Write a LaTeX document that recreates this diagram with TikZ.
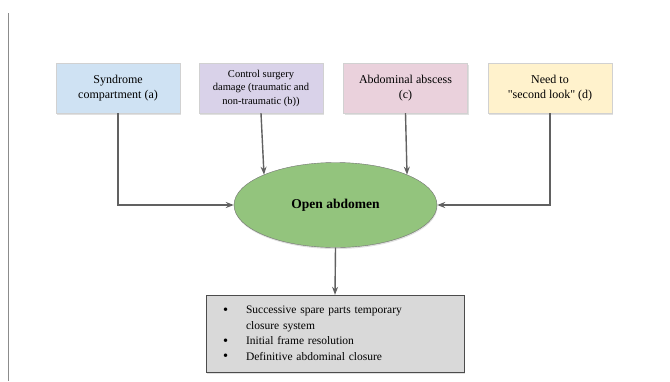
\documentclass[tikz,border=0pt]{standalone}
\usepackage{fontspec}
\setmainfont{Liberation Serif}
\usetikzlibrary{shapes.geometric,arrows.meta,shadows}
\definecolor{syndblue}{HTML}{CFE2F3}
\definecolor{surgpurple}{HTML}{D9D2E9}
\definecolor{abscpink}{HTML}{EAD1DC}
\definecolor{lookyellow}{HTML}{FFF2CC}
\definecolor{opengreen}{HTML}{93C47D}
\definecolor{listgray}{HTML}{D9D9D9}
\newcommand{\stepbullet}{\makebox[23pt][l]{\raisebox{-0.5pt}{\Large\textbullet}}}
\begin{document}
\begin{tikzpicture}[x=1pt,y=-1pt,
    cause/.style={draw=black!18, minimum width=124pt, minimum height=50pt, inner sep=1pt,
      align=center, font=\fontsize{12}{15}\selectfont,
      drop shadow={shadow xshift=1pt, shadow yshift=-1.5pt, fill=black!30, opacity=0.4}},
    flow/.style={draw=black!62, line width=1.4pt, -{Stealth[length=8pt,width=6pt]}}]
  \useasboundingbox (0,0) rectangle (670,381);
  % page margin line on the left
  \draw[black!45, line width=0.8pt] (8,13) -- (8,381);

  % the four causes along the top
  \node[cause, fill=syndblue] (synd) at (118,88) {Syndrome\\compartment (a)};
  \node[cause, fill=surgpurple, font=\fontsize{10.5}{13.5}\selectfont] (surg) at (261,88)
    {Control surgery\\damage (traumatic and\\non-traumatic (b))};
  \node[cause, fill=abscpink] (absc) at (405.5,88) {Abdominal abscess\\(c)};
  \node[cause, fill=lookyellow] (look) at (550,88)
    {Need to\\\textquotedbl second look\textquotedbl{} (d)};

  % open abdomen in the middle
  \node[ellipse, draw=black!55, fill=opengreen, minimum width=203pt, minimum height=85pt,
    inner sep=0pt, font=\fontsize{13.5}{16}\selectfont\bfseries,
    drop shadow={shadow xshift=0.5pt, shadow yshift=-1.5pt, fill=black!30, opacity=0.4}]
    (open) at (335.5,205) {Open abdomen};

  % treatment steps at the bottom
  \node[draw=black!70, fill=listgray, minimum height=77pt, text width=224pt,
    inner xsep=17pt, inner ysep=0pt, align=left, font=\fontsize{11.5}{15.4}\selectfont,
    drop shadow={shadow xshift=1pt, shadow yshift=-1.5pt, fill=black!30, opacity=0.4}]
    (steps) at (335,333.5)
    {\stepbullet Successive spare parts temporary\\
     \hspace*{23pt}closure system\\
     \stepbullet Initial frame resolution\\
     \stepbullet Definitive abdominal closure};

  % connectors
  \draw[flow] (synd.south) |- (open.west);
  \draw[flow] (surg.south) -- (open.157);
  \draw[flow] (absc.south) -- (open.23);
  \draw[flow] (look.south) |- (open.east);
  \draw[flow] (open.south) -- (steps.north);
\end{tikzpicture}
\end{document}
